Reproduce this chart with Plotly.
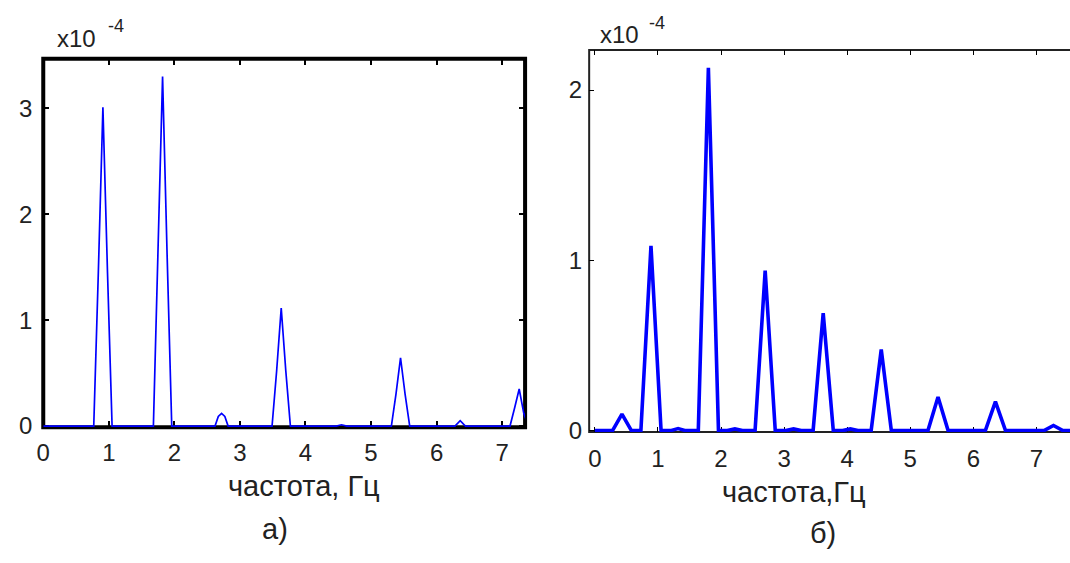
import plotly.graph_objects as go

W, H = 1070, 563

# ---- data (amplitude in units of 1e-4) ----
freq_a = [0.0, 0.77, 0.84, 0.91, 0.98, 1.05, 1.68, 1.75, 1.82, 1.89, 1.96,
          2.62, 2.67, 2.72, 2.77, 2.82, 3.49, 3.56, 3.63, 3.70, 3.77,
          4.47, 4.55, 4.63, 5.31, 5.38, 5.45, 5.52, 5.59, 6.28, 6.36, 6.44,
          7.12, 7.19, 7.26, 7.33, 7.40]
amp_a = [0.0, 0.0, 1.45, 3.01, 1.45, 0.0, 0.0, 1.6, 3.30, 1.6, 0.0,
         0.0, 0.09, 0.12, 0.09, 0.0, 0.0, 0.52, 1.115, 0.52, 0.0,
         0.0, 0.012, 0.0, 0.0, 0.3, 0.645, 0.3, 0.0, 0.0, 0.05, 0.0,
         0.0, 0.17, 0.35, 0.12, 0.0]

freq_b = [0.0, 0.28, 0.43, 0.58, 0.73, 0.89, 1.05, 1.20, 1.32, 1.44,
          1.64, 1.80, 1.96, 2.10, 2.22, 2.34, 2.54, 2.70, 2.86, 3.03, 3.15, 3.27,
          3.46, 3.62, 3.78, 3.93, 4.05, 4.17, 4.38, 4.54, 4.70,
          5.28, 5.44, 5.60, 6.19, 6.35, 6.51, 7.12, 7.27, 7.42, 7.60]
amp_b = [0.0, 0.0, 0.097, 0.0, 0.0, 1.085, 0.0, 0.0, 0.012, 0.0,
         0.0, 2.13, 0.0, 0.0, 0.01, 0.0, 0.0, 0.94, 0.0, 0.0, 0.01, 0.0,
         0.0, 0.69, 0.0, 0.0, 0.01, 0.0, 0.0, 0.476, 0.0,
         0.0, 0.198, 0.0, 0.0, 0.17, 0.0, 0.0, 0.03, 0.0, 0.0]

xticks_a = [0, 1, 2, 3, 4, 5, 6, 7]
yticks_a = [0, 1, 2, 3]
xticks_b = [0, 1, 2, 3, 4, 5, 6, 7]
yticks_b = [0, 1, 2]

xtitle_a = "частота, Гц"
xtitle_b = "частота,Гц"
panel_a = "а)"
panel_b = "б)"
scale_base = "x10"
scale_exp = "-4"


def px(x):
    return x / W


def py(y):
    return 1 - y / H


FONT = "Liberation Sans, Arial, sans-serif"
TXT = "#222222"

fig = go.Figure()
fig.add_trace(go.Scatter(x=freq_a, y=amp_a, mode="lines",
                         line=dict(color="#0000ff", width=1.7),
                         xaxis="x", yaxis="y", showlegend=False, hoverinfo="skip"))
fig.add_trace(go.Scatter(x=freq_b, y=amp_b, mode="lines",
                         line=dict(color="#0000ff", width=3.6),
                         xaxis="x2", yaxis="y2", showlegend=False, hoverinfo="skip"))

common = dict(showgrid=False, zeroline=False, ticks="inside", tickcolor="black",
              showline=False, layer="below traces",
              tickfont=dict(family=FONT, size=24, color=TXT))

fig.update_layout(
    width=W, height=H,
    margin=dict(l=0, r=0, t=0, b=0),
    paper_bgcolor="white", plot_bgcolor="white",
    showlegend=False,
    xaxis=dict(domain=[px(36.5), px(521.5)], range=[0, 7.35], tickvals=xticks_a,
               ticklen=6, tickwidth=1.5, anchor="y", ticklabelstandoff=9,
               mirror="ticks", **common),
    yaxis=dict(domain=[py(436.5), py(60)], range=[-0.011, 3.469], tickvals=yticks_a,
               ticklen=6, tickwidth=1.5, anchor="x", ticklabelstandoff=10,
               mirror="ticks", **common),
    xaxis2=dict(domain=[px(586), 1.0], range=[-0.0898, 7.532], tickvals=xticks_b,
                ticklen=5, tickwidth=1.2, anchor="y2", ticklabelstandoff=10,
                mirror="ticks", **common),
    yaxis2=dict(domain=[py(441.5), py(51)], range=[-0.0086, 2.2356], tickvals=yticks_b,
                ticklen=5, tickwidth=1.2, anchor="x2", ticklabelstandoff=6,
                mirror=False, **common),
)

shapes = [
    dict(type="rect", xref="paper", yref="paper", layer="below",
         x0=px(36.5), x1=px(521.5), y0=py(436.5), y1=py(60),
         line=dict(color="black", width=4), fillcolor="rgba(0,0,0,0)"),
    dict(type="path", xref="paper", yref="paper", layer="below",
         path="M {a},{b} L {c},{b} L {c},{d} L {a},{d}".format(
             a=px(1080), b=py(51), c=px(586), d=py(441.5)),
         line=dict(color="#222222", width=2)),
]

ann = []


def add_text(text, x, y, size):
    ann.append(dict(text=text, x=px(x), y=py(y), xref="paper", yref="paper",
                    showarrow=False, xanchor="center", yanchor="middle",
                    font=dict(family=FONT, size=size, color=TXT)))


add_text(xtitle_a, 299, 497, 29)
add_text(xtitle_b, 792, 503, 29)
add_text(panel_a, 270, 541, 29)
add_text(panel_b, 821, 545, 29)
add_text(scale_base, 70, 39, 24)
add_text(scale_exp, 110, 27, 18)
add_text(scale_base, 617, 35, 24)
add_text(scale_exp, 654, 24, 18)

fig.update_layout(annotations=ann, shapes=shapes)

fig.write_html("out.html", config={"displayModeBar": False},
               post_script="document.body.style.margin='0';document.body.style.overflow='hidden';")
